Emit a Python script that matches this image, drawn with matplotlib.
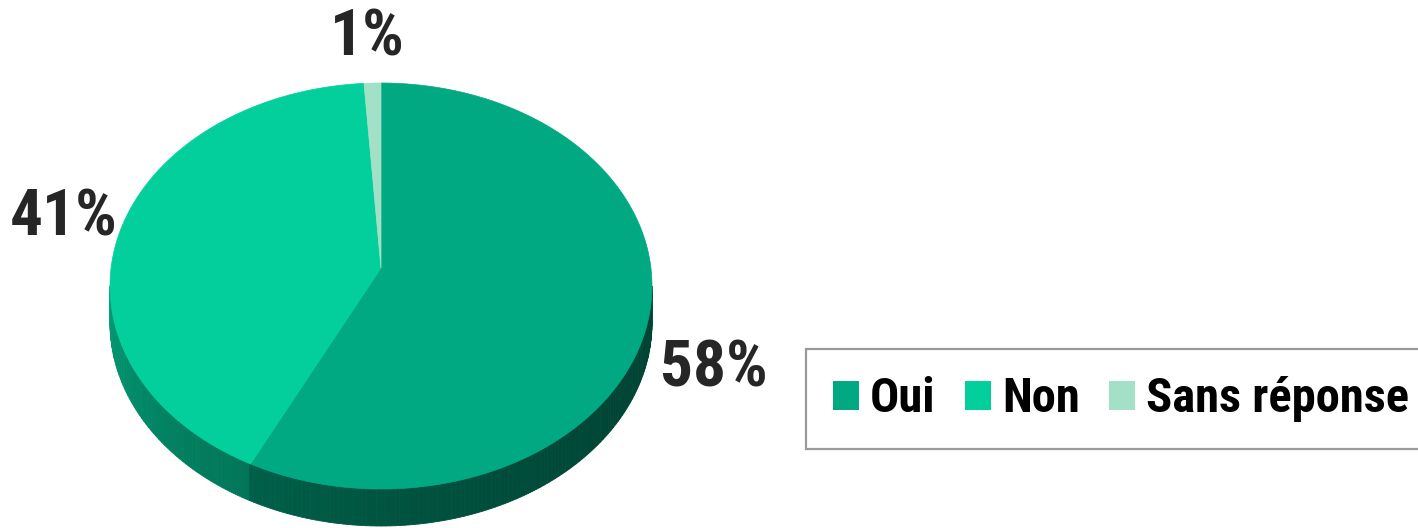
import numpy as np
import matplotlib
matplotlib.use("Agg")
import matplotlib.pyplot as plt
from matplotlib.patches import Polygon, Patch

plt.rcParams['font.family'] = ['Roboto Condensed', 'Liberation Sans', 'DejaVu Sans']

# data
labels = ['Oui', 'Non', 'Sans réponse']
values = [58, 41, 1]
pct_text = ['58%', '41%', '1%']
top_colors = ['#00a981', '#03cf9c', '#a2e1c8']

W, H = 1418, 528
fig = plt.figure(figsize=(W / 100, H / 100), dpi=100)
ax = fig.add_axes([0, 0, 1, 1])
ax.set_xlim(0, W)
ax.set_ylim(H, 0)
ax.axis('off')

# ellipse geometry (pixels)
cx, cy = 381, 286
rx, ry = 271, 203
apex = (381, 268)
depth = 37


def rim(t):
    return cx + rx * np.cos(np.radians(t)), cy - ry * np.sin(np.radians(t))


def shade(hexcol, f):
    r, g, b = matplotlib.colors.to_rgb(hexcol)
    return (r * f, g * f, b * f)


# slice angles (clockwise from top)
fracs = np.array(values) / sum(values) * 360
starts = 90 - np.concatenate([[0], np.cumsum(fracs)[:-1]])
ends = starts - fracs


def slice_at(t):
    for i in range(len(values)):
        a, b = ends[i], starts[i]
        tt = t
        while tt > b:
            tt -= 360
        while tt < a:
            tt += 360
        if a <= tt <= b:
            return i
    return 0


# side of the disk
step = 1.0
for t in np.arange(180, 360, step):
    tm = t + step / 2
    i = slice_at(tm)
    u = (tm - 180) / 180
    f = 0.40 + 0.35 * (1 - u) ** 1.8
    x0, y0 = rim(t)
    x1, y1 = rim(t + step)
    col = shade(top_colors[i], f)
    ax.add_patch(Polygon([(x0, y0), (x1, y1), (x1, y1 + depth), (x0, y0 + depth)],
                         closed=True, facecolor=col, edgecolor=col, lw=0.6))

# top face
for i in range(len(values)):
    ts = np.linspace(starts[i], ends[i], 200)
    pts = [apex] + [rim(t) for t in ts]
    ax.add_patch(Polygon(pts, closed=True, facecolor=top_colors[i],
                         edgecolor=top_colors[i], lw=0.5))

# percentage labels
label_pos = [(714, 369), (64, 218), (367, 38)]
for i, txt in enumerate(pct_text):
    ax.text(label_pos[i][0], label_pos[i][1], txt, fontsize=47, fontweight='bold',
            color='#262626', ha='center', va='center')

# legend
handles = [Patch(facecolor=c, edgecolor='none') for c in top_colors]
leg = fig.legend(handles, labels, ncol=3, loc='upper left',
                 bbox_to_anchor=(806 / W, 1 - 349 / H),
                 prop={'size': 35, 'weight': 'bold'},
                 frameon=True, fancybox=False, edgecolor='#808080',
                 handlelength=0.54, handleheight=0.54, handletextpad=0.22,
                 columnspacing=0.6, borderpad=0.56, borderaxespad=0)
leg.get_frame().set_linewidth(1.6)

fig.savefig('out.png', dpi=100)
